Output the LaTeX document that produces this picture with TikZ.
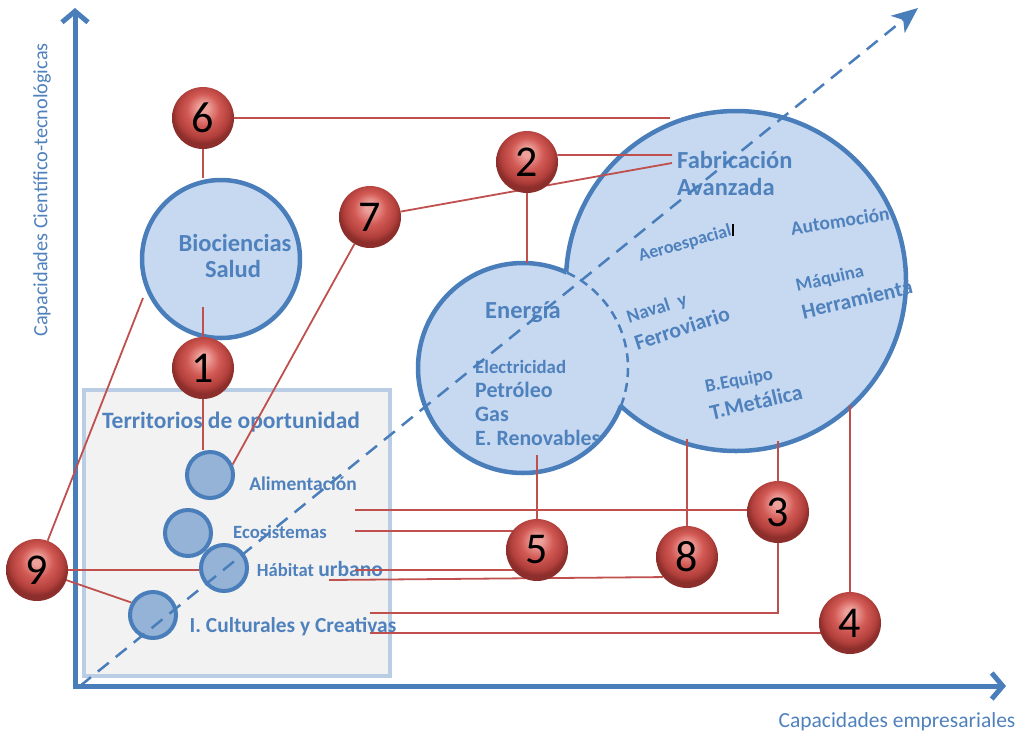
\documentclass[tikz,border=0pt]{standalone}
\usepackage{fontspec}
\setmainfont{Carlito}
\usetikzlibrary{arrows.meta}
\definecolor{axisblue}{HTML}{4A7EBB}
\definecolor{txtblue}{HTML}{4F81BD}
\definecolor{lightfill}{HTML}{C6D9F1}
\definecolor{smallfill}{HTML}{95B3D7}
\definecolor{redline}{HTML}{C0504D}
\definecolor{boxfill}{HTML}{F2F2F2}
\definecolor{boxedge}{HTML}{B9CDE5}
\definecolor{ballhi}{HTML}{EEA09B}
\definecolor{ballmid}{HTML}{D25A55}
\definecolor{balldk}{HTML}{B3403C}
\definecolor{ballrim}{HTML}{8C2E2B}
\pgfdeclareradialshading{redball}{\pgfpoint{0bp}{9bp}}{color(0bp)=(ballhi); color(4bp)=(ballhi); color(13bp)=(ballmid); color(21bp)=(balldk); color(25bp)=(ballrim); color(50bp)=(ballrim)}
\pgfdeclarelayer{base}
\pgfdeclarelayer{lines}
\pgfsetlayers{base,lines,main}
\tikzset{
  ball/.style={circle, minimum size=62pt, inner sep=0pt, shading=redball, text=black, font=\fontsize{44}{44}\selectfont},
  bigcirc/.style={circle, inner sep=0pt, fill=lightfill, draw=axisblue, line width=4.5pt},
  smallcirc/.style={circle, inner sep=0pt, minimum size=46pt, fill=smallfill, draw=axisblue, line width=4pt},
  link/.style={draw=redline, line width=1.8pt},
  lbl/.style={text=txtblue, font=\bfseries\fontsize{#1}{#1}\selectfont, inner sep=0pt},
  lbl/.default=16,
  axislbl/.style={text=txtblue, font=\fontsize{#1}{#1}\selectfont, inner sep=0pt},
  axisline/.style={draw=axisblue, line width=5pt, -{Straight Barb[length=11pt,width=26pt]}},
  diag/.style={draw=axisblue, line width=2.5pt, dash pattern=on 14pt off 9pt, -{Stealth[length=26pt,width=22pt,inset=7pt]}}
}
\begin{document}
\begin{tikzpicture}[x=1pt,y=-1pt]
\useasboundingbox (0,0) rectangle (1016,734);

\begin{pgfonlayer}{base}
% axes
\coordinate (ytip) at (75,8);
\coordinate (xtip) at (1006,686);
\draw[axisline] (75,688) -- (ytip);
\draw[axisline] (73,686) -- (xtip);
\node[axislbl=20.3, rotate=90] (ylab) at (42,190) {Capacidades Científico-tecnológicas};
\node[axislbl=21.5] (xlab) at (897,722) {Capacidades empresariales};

% Territorios box
\node[draw=boxedge, fill=boxfill, line width=4pt, minimum width=306pt, minimum height=286pt, inner sep=0pt] (terr) at (237,533) {};
\node[lbl=23.5] (terrlab) at (231,422) {Territorios de oportunidad};

% big shapes
\node[bigcirc, minimum size=340pt] (fab) at (736,281) {};
\node[circle, inner sep=0pt, minimum size=210pt, fill=lightfill] (ene) at (523,368) {};
\begin{scope}
  \clip (fab.center) circle (170);
  \draw[axisblue, line width=2.5pt, dash pattern=on 9pt off 6pt] (ene.center) circle (105);
\end{scope}
\begin{scope}[even odd rule]
  \clip (0,0) rectangle (1016,734) (fab.center) circle (170);
  \draw[axisblue, line width=4.5pt] (ene.center) circle (105);
\end{scope}
\node[bigcirc, minimum size=158pt] (bio) at (221,259) {};

% small circles
\node[smallcirc] (al) at (210,475) {};
\node[smallcirc] (eco) at (188,533) {};
\node[smallcirc] (hab) at (224,568) {};
\node[smallcirc] (cul) at (153,615) {};

% labels
\node[lbl=24.5] (biot) at (235,243) {Biociencias};
\node[lbl=24.5] (salt) at (233,269) {Salud};
\node[lbl=24.5] (enet) at (523,312) {Energía};
\node[lbl=18.8, anchor=west] (elec) at (475,367) {Electricidad};
\node[lbl=22, anchor=west] (petr) at (475,390) {Petróleo};
\node[lbl=22, anchor=west] (gas) at (475,414) {Gas};
\node[lbl=21.8, anchor=west] (renov) at (475,438) {E. Renovables};
\node[lbl=24.5, anchor=west] (fabt) at (677,160) {Fabricación};
\node[lbl=24.5, anchor=west] (avz) at (677,187) {Avanzada};
\node[lbl=18, rotate=16] (aero) at (685,244) {Aeroespacial};
\draw[black, line width=1.5pt] (733,224) -- (733,236);
\node[lbl=19.5, rotate=9] (auto) at (840,221) {Automoción};
\node[lbl=18.6, rotate=13] (maq) at (830,279) {Máquina};
\node[lbl=21.6, rotate=13] (herr) at (857,299) {Herramienta};
\node[lbl=19, rotate=18] (naval) at (657,309) {Naval\ \ y};
\node[lbl=21.8, rotate=18] (ferr) at (682,328) {Ferroviario};
\node[lbl=18.6, rotate=11] (bequ) at (739,381) {B.Equipo};
\node[lbl=22, rotate=13] (tmet) at (756,402) {T.Metálica};
\node[lbl=19.5] (alt) at (303,484) {Alimentación};
\node[lbl=18.7] (ecot) at (280,532) {Ecosistemas};
\node[lbl=18.6] (habt) at (320,569) {Hábitat {\fontsize{21.6}{21.6}\selectfont urbano}};
\node[lbl=21.4] (cult) at (293,627) {I. Culturales y Creativas};
\end{pgfonlayer}

% balls
\node[ball] (b6) at (203,118) {6};
\node[ball] (b2) at (527,162) {2};
\node[ball] (b7) at (370,217) {7};
\node[ball] (b1) at (203,368) {1};
\node[ball] (b9) at (37,570) {9};
\node[ball] (b5) at (537,550) {5};
\node[ball] (b8) at (687,557) {8};
\node[ball] (b3) at (778,512) {3};
\node[ball] (b4) at (850,623) {4};

% free ends
\coordinate (f6) at (670,118);
\coordinate (f2) at (672,155);
\coordinate (f7) at (672,163);
\coordinate (f1) at (203,307);
\coordinate (f9) at (143,298);
\coordinate (f5) at (537,455);
\coordinate (f8) at (687,439);
\coordinate (f3) at (778,441);
\coordinate (f4) at (850,405);
\coordinate (e1) at (355,510);
\coordinate (e2) at (355,531);
\coordinate (h1) at (355,570);
\coordinate (h2) at (329,580);
\coordinate (c1) at (370,613);
\coordinate (c2) at (370,633);
\coordinate (dstart) at (80,686);
\coordinate (dtip) at (918,8);

\begin{pgfonlayer}{lines}
\path[link] (b6.center) -- (f6);
\path[link] (b6.center) -- (b6.center |- bio.north);
\path[link] (b2.13) -- (f2);
\path[link] (b7.10) -- (f7);
\path[link] (b2.center) -- (b2.center |- ene.north);
\path[link] (b7.240) -- (al.25);
\path[link] (b1.center) -- (f1);
\path[link] (b1.center) -- (b1.center |- al.north);
\path[link] (b9.70) -- (f9);
\path[link] (b9.center) -- (b9.center -| hab.west);
\path[link] (b9.center) -- (cul.150);
\path[link] (e1) -- (e1 -| b3.center);
\path[link] (e2) -- (e2 -| b5.center);
\path[link] (h1) -- (h1 -| b5.center);
\path[link] (h2) -- (b8.220);
\path[link] (c1) -| (b3.center);
\path[link] (c2) -- (c2 -| b4.center);
\path[link] (b5.center) -- (f5);
\path[link] (b8.center) -- (f8);
\path[link] (b3.center) -- (f3);
\path[link] (b4.center) -- (f4);
\draw[diag] (dstart) -- (dtip);
\end{pgfonlayer}
\end{tikzpicture}
\end{document}
